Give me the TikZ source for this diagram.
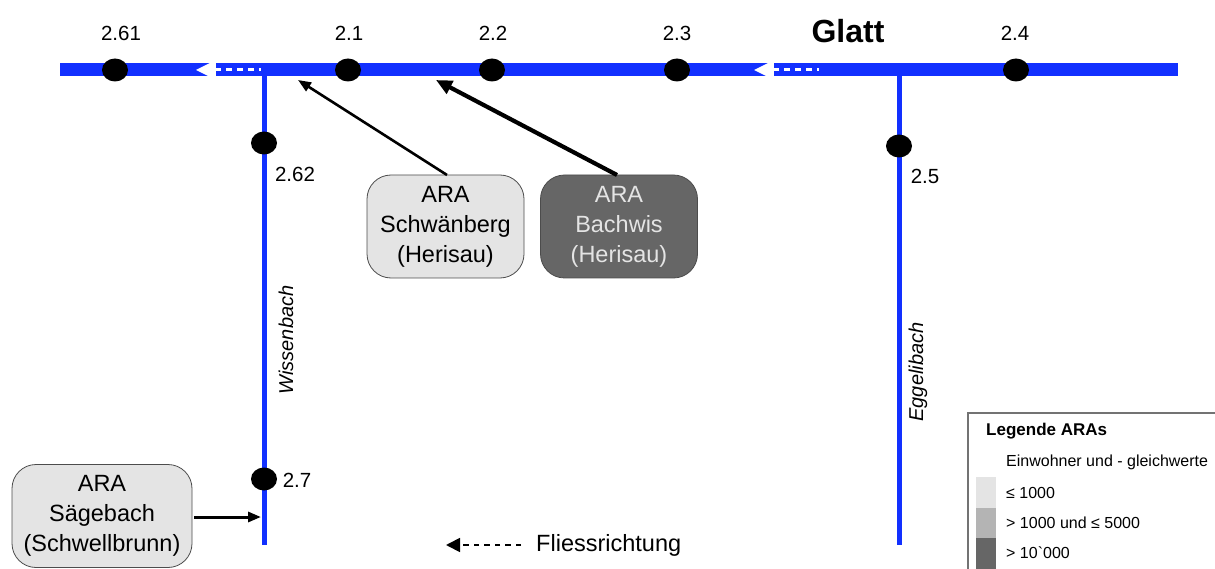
\documentclass[tikz,border=0pt]{standalone}
\usepackage{fontspec}
\setmainfont{Liberation Sans}
\usetikzlibrary{shapes.geometric,arrows.meta}
\definecolor{riv}{RGB}{18,48,255}
\definecolor{lgray}{RGB}{228,228,228}
\definecolor{mgray}{RGB}{180,180,180}
\definecolor{dgray}{RGB}{102,102,102}
\tikzset{
  river/.style={riv,line width=13},
  trib/.style={riv,line width=5},
  gauge/.style={ellipse,fill=black,minimum width=26,minimum height=23,inner sep=0},
  glabel/.style={font=\fontsize{20.5}{22}\selectfont,inner sep=0},
  arabox/.style={rounded corners=24,draw=black!70,line width=0.8,minimum width=157,minimum height=103,align=center,font=\fontsize{23.5}{30}\selectfont,inner sep=0},
  flowdash/.style={white,line width=3,dash pattern=on 6 off 5},
  feed/.style={-{Triangle[length=13,width=10]},black},
  legtext/.style={font=\fontsize{16}{18}\selectfont,anchor=west,inner sep=0},
}
\begin{document}
\begin{tikzpicture}[x=1pt,y=-1pt]
\useasboundingbox (0,0) rectangle (1215,569);
% main river
\coordinate (mw) at (60,70);
\coordinate (me) at (1178,70);
\draw[river] (mw) -- (me);
% tributaries
\coordinate (wtop) at (264,70);
\coordinate (wbot) at (264,545);
\coordinate (etop) at (899,70);
\coordinate (ebot) at (899,545);
\draw[trib] (wtop) -- (wbot);
\draw[trib] (etop) -- (ebot);
% flow arrows on main river
\fill[white] (196,70) -- (213,61.5) -- (213,78.5) -- cycle;
\fill[white] (213,61.5) rectangle (215.5,78.5);
\coordinate (fa1) at (215,70);
\coordinate (fb1) at (261,70);
\draw[flowdash] (fa1) -- (fb1);
\fill[white] (754,70) -- (771,61.5) -- (771,78.5) -- cycle;
\fill[white] (771,61.5) rectangle (773.5,78.5);
\coordinate (fa2) at (773,70);
\coordinate (fb2) at (819,70);
\draw[flowdash] (fa2) -- (fb2);
% gauges
\node[gauge] (g261) at (115,70) {};
\node[gauge] (g21) at (348,70) {};
\node[gauge] (g22) at (492,70) {};
\node[gauge] (g23) at (677,70) {};
\node[gauge] (g24) at (1016,70) {};
\node[gauge] (g262) at (264,143) {};
\node[gauge] (g25) at (899,146) {};
\node[gauge] (g27) at (264,479) {};
% labels
\node[glabel] (l261) at (121,33) {2.61};
\node[glabel] (l21) at (349,33) {2.1};
\node[glabel] (l22) at (493,33) {2.2};
\node[glabel] (l23) at (677,33) {2.3};
\node[glabel] (l24) at (1015,33) {2.4};
\node[glabel] (l262) at (295,174) {2.62};
\node[glabel] (l25) at (925,176) {2.5};
\node[glabel] (l27) at (297,480) {2.7};
\node[font=\fontsize{32}{34}\selectfont\bfseries,inner sep=0] (glatt) at (848,31) {Glatt};
\node[font=\fontsize{20}{22}\selectfont\itshape,rotate=90,inner sep=0] (wis) at (286,340) {Wissenbach};
\node[font=\fontsize{20}{22}\selectfont\itshape,rotate=90,inner sep=0] (egg) at (918,372) {Eggelibach};
% ARA boxes
\node[arabox,fill=lgray] (schw) at (445.5,226.5) {ARA\\Schwänberg\\(Herisau)};
\node[arabox,fill=dgray,text=lgray] (bach) at (619,226.5) {ARA\\Bachwis\\(Herisau)};
\node[arabox,fill=lgray,minimum width=180] (saeg) at (102,516) {ARA\\Sägebach\\(Schwellbrunn)};
% inflows
\coordinate (schwin) at (298,80);
\coordinate (bachin) at (436,80);
\coordinate (saegin) at (261,517);
\draw[feed,line width=2.6] (447,175) -- (schwin);
\draw[feed,line width=4.2,-{Triangle[length=16,width=14]}] (617,175) -- (bachin);
\draw[feed,line width=3] (saeg.east |- saegin) ++(2,0) coordinate (saegout) -- (saegin);
% flow direction legend
\coordinate (fl1) at (521,545);
\coordinate (fl2) at (446,545);
\draw[black,line width=1.8,dash pattern=on 5.5 off 5,-{Triangle[length=14,width=14]}] (fl1) -- (fl2);
\node[font=\fontsize{23.5}{26}\selectfont,anchor=west,inner sep=0] (fliess) at (536,545) {Fliessrichtung};
% legend
\coordinate (lb) at (968,569);
\coordinate (lt) at (968,413);
\coordinate (lr) at (1215,413);
\draw[black!55,line width=1.5] (lb) -- (lt) -- (lr);
\node[font=\fontsize{17}{19}\selectfont\bfseries,anchor=west,inner sep=0] (legtitle) at (986,431) {Legende ARAs};
\node[legtext] (legsub) at (1006,462) {Einwohner und - gleichwerte};
\fill[lgray] (976,477) rectangle (996,508);
\fill[mgray] (976,508) rectangle (996,538);
\fill[dgray] (976,538) rectangle (996,569);
\node[legtext] (leg1) at (1006,493) {≤ 1000};
\node[legtext] (leg2) at (1006,523) {> 1000 und ≤ 5000};
\node[legtext] (leg3) at (1006,553) {> 10\textasciigrave000};
\end{tikzpicture}
\end{document}
